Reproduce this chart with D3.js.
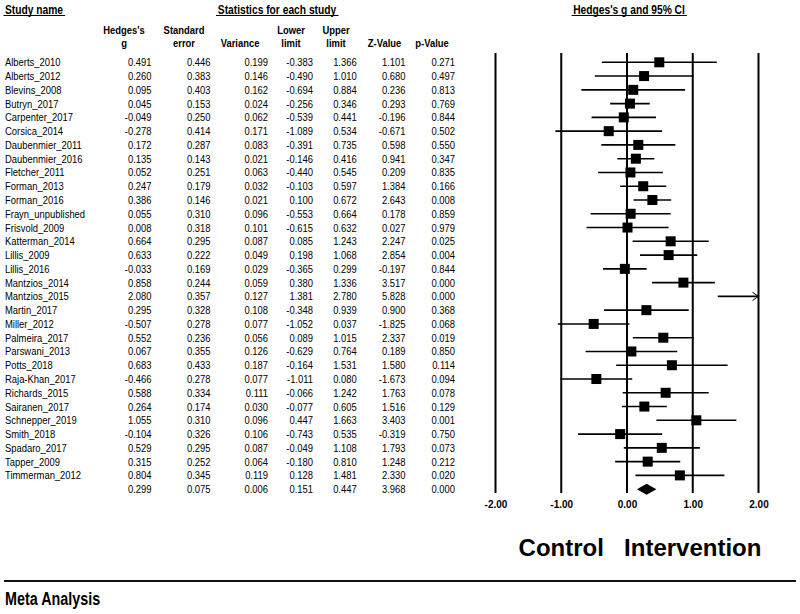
<!DOCTYPE html>
<html><head><meta charset="utf-8">
<script src="https://cdn.jsdelivr.net/npm/d3@7"></script>
<style>body{margin:0;background:#fff}svg{display:block}text{font-family:"Liberation Sans",Arial,sans-serif;fill:#000}</style>
</head><body>
<script>
const studies = ["Alberts_2010","Alberts_2012","Blevins_2008","Butryn_2017","Carpenter_2017","Corsica_2014","Daubenmier_2011","Daubenmier_2016","Fletcher_2011","Forman_2013","Forman_2016","Frayn_unpublished","Frisvold_2009","Katterman_2014","Lillis_2009","Lillis_2016","Mantzios_2014","Mantzios_2015","Martin_2017","Miller_2012","Palmeira_2017","Parswani_2013","Potts_2018","Raja-Khan_2017","Richards_2015","Sairanen_2017","Schnepper_2019","Smith_2018","Spadaro_2017","Tapper_2009","Timmerman_2012"];
const hedgesG = [0.491,0.260,0.095,0.045,-0.049,-0.278,0.172,0.135,0.052,0.247,0.386,0.055,0.008,0.664,0.633,-0.033,0.858,2.080,0.295,-0.507,0.552,0.067,0.683,-0.466,0.588,0.264,1.055,-0.104,0.529,0.315,0.804];
const stdErr = [0.446,0.383,0.403,0.153,0.250,0.414,0.287,0.143,0.251,0.179,0.146,0.310,0.318,0.295,0.222,0.169,0.244,0.357,0.328,0.278,0.236,0.355,0.433,0.278,0.334,0.174,0.310,0.326,0.295,0.252,0.345];
const variance = [0.199,0.146,0.162,0.024,0.062,0.171,0.083,0.021,0.063,0.032,0.021,0.096,0.101,0.087,0.049,0.029,0.059,0.127,0.108,0.077,0.056,0.126,0.187,0.077,0.111,0.030,0.096,0.106,0.087,0.064,0.119];
const lowerLimit = [-0.383,-0.490,-0.694,-0.256,-0.539,-1.089,-0.391,-0.146,-0.440,-0.103,0.100,-0.553,-0.615,0.085,0.198,-0.365,0.380,1.381,-0.348,-1.052,0.089,-0.629,-0.164,-1.011,-0.066,-0.077,0.447,-0.743,-0.049,-0.180,0.128];
const upperLimit = [1.366,1.010,0.884,0.346,0.441,0.534,0.735,0.416,0.545,0.597,0.672,0.664,0.632,1.243,1.068,0.299,1.336,2.780,0.939,0.037,1.015,0.764,1.531,0.080,1.242,0.605,1.663,0.535,1.108,0.810,1.481];
const zValue = [1.101,0.680,0.236,0.293,-0.196,-0.671,0.598,0.941,0.209,1.384,2.643,0.178,0.027,2.247,2.854,-0.197,3.517,5.828,0.900,-1.825,2.337,0.189,1.580,-1.673,1.763,1.516,3.403,-0.319,1.793,1.248,2.330];
const pValue = [0.271,0.497,0.813,0.769,0.844,0.502,0.550,0.347,0.835,0.166,0.008,0.859,0.979,0.025,0.004,0.844,0.000,0.000,0.368,0.068,0.019,0.850,0.114,0.094,0.078,0.129,0.001,0.750,0.073,0.212,0.020];
const summary = [0.299,0.075,0.006,0.151,0.447,3.968,0.000]; // g, se, var, lower, upper, z, p
const axisTicks = [-2,-1,0,1,2];
const colHeaders = [["Hedges's","g"],["Standard","error"],["","Variance"],["Lower","limit"],["Upper","limit"],["","Z-Value"],["","p-Value"]];
const directionLabels = ["Control","Intervention"];

const W=800,H=614;
const svg=d3.select("body").append("svg").attr("width",W).attr("height",H);
const x=d3.scaleLinear().domain([-2,2]).range([495.5,758.5]);
const nRows=studies.length+1;
const y=d3.scaleLinear().domain([0,nRows-1]).range([62.3,62.3+(nRows-1)*13.77]);
const fmt=v=>v.toFixed(3);
const SX=0.82;

function ntext(str,tx,ty,size,weight,anchor){
  return svg.append("text").attr("transform",`translate(${tx},${ty}) scale(${SX},1)`)
    .attr("font-size",size).attr("font-weight",weight||"normal").attr("text-anchor",anchor||"start").text(str);
}
function titled(str,tx,ty,anchor){
  const t=ntext(str,tx,ty,12.5,"bold",anchor);
  const w=t.node().getBBox().width*SX;
  const x0=anchor==="middle"?tx-w/2:tx;
  svg.append("line").attr("x1",x0-1.5).attr("x2",x0+w+2).attr("y1",ty+2).attr("y2",ty+2).attr("stroke","#000").attr("stroke-width",1.1);
}
titled("Study name",5,13.5,"start");
titled("Statistics for each study",277,13.5,"middle");
titled("Hedges's g and 95% CI",629,13.5,"middle");

const colRight=[151.5,210.5,268,313,356.7,405.5,455];
const colCenter=[124,184,240,291,336,384.5,432];
colHeaders.forEach((h,i)=>{
  if(h[0]) ntext(h[0],colCenter[i],34,11.5,"bold","middle");
  ntext(h[1],colCenter[i],47,11.5,"bold","middle");
});

const cols=[hedgesG,stdErr,variance,lowerLimit,upperLimit,zValue,pValue];
studies.forEach((s,r)=>{
  const yy=y(r)+4;
  ntext(s,5,yy,11.5,"normal","start");
  cols.forEach((c,i)=>ntext(fmt(c[r]),colRight[i],yy,11.5,"normal","end"));
});
summary.forEach((v,i)=>ntext(fmt(v),colRight[i],y(nRows-1)+4,11.5,"normal","end"));

// vertical reference lines
svg.append("g").selectAll("line").data(axisTicks).join("line")
  .attr("x1",d=>x(d)).attr("x2",d=>x(d)).attr("y1",53).attr("y2",493)
  .attr("stroke","#000").attr("stroke-width",2);

// axis labels
const ax=svg.append("g").attr("transform","translate(0,500.5)")
  .call(d3.axisBottom(x).tickValues(axisTicks).tickSize(0).tickPadding(0).tickFormat(d=>d.toFixed(2)));
ax.select(".domain").remove();
ax.selectAll("text").attr("font-size",10).attr("font-weight","bold").attr("font-family","Liberation Sans, Arial, sans-serif").attr("fill","#000");

// whiskers
const rows=studies.map((s,i)=>({i,g:hedgesG[i],lo:lowerLimit[i],hi:upperLimit[i]}));
const clamp=v=>Math.max(-2,Math.min(2,v));
svg.append("g").selectAll("line").data(rows).join("line")
  .attr("x1",d=>x(clamp(d.lo))).attr("x2",d=>x(clamp(d.hi)))
  .attr("y1",d=>y(d.i)).attr("y2",d=>y(d.i)).attr("stroke","#000").attr("stroke-width",1.6);
const sq=10;
svg.append("g").selectAll("rect").data(rows.filter(d=>d.g>=-2&&d.g<=2)).join("rect")
  .attr("x",d=>x(d.g)-sq/2).attr("y",d=>y(d.i)-sq/2).attr("width",sq).attr("height",sq).attr("fill","#000");
// arrows for truncated
rows.filter(d=>d.hi>2).forEach(d=>{
  const ax2=x(2),yy=y(d.i);
  svg.append("path").attr("d",`M${ax2-6},${yy-4}L${ax2},${yy}L${ax2-6},${yy+4}`).attr("fill","none").attr("stroke","#000").attr("stroke-width",1);
});
// summary diamond
const ys=y(nRows-1);
svg.append("path").attr("d",`M${x(summary[3])},${ys}L${x(summary[0])},${ys-5.5}L${x(summary[4])},${ys}L${x(summary[0])},${ys+5.5}Z`).attr("fill","#000");

// direction labels
svg.selectAll("text.dir").data(directionLabels).join("text").attr("class","dir")
  .attr("x",(d,i)=>x(i===0?-1:1)).attr("y",555.5).attr("text-anchor","middle")
  .attr("font-size",24).attr("font-weight","bold").text(d=>d);

// footer
svg.append("line").attr("x1",4).attr("x2",796).attr("y1",581).attr("y2",581).attr("stroke","#111").attr("stroke-width",2.2);
ntext("Meta Analysis",5,605,17.5,"bold","start");
</script>
</body></html>
